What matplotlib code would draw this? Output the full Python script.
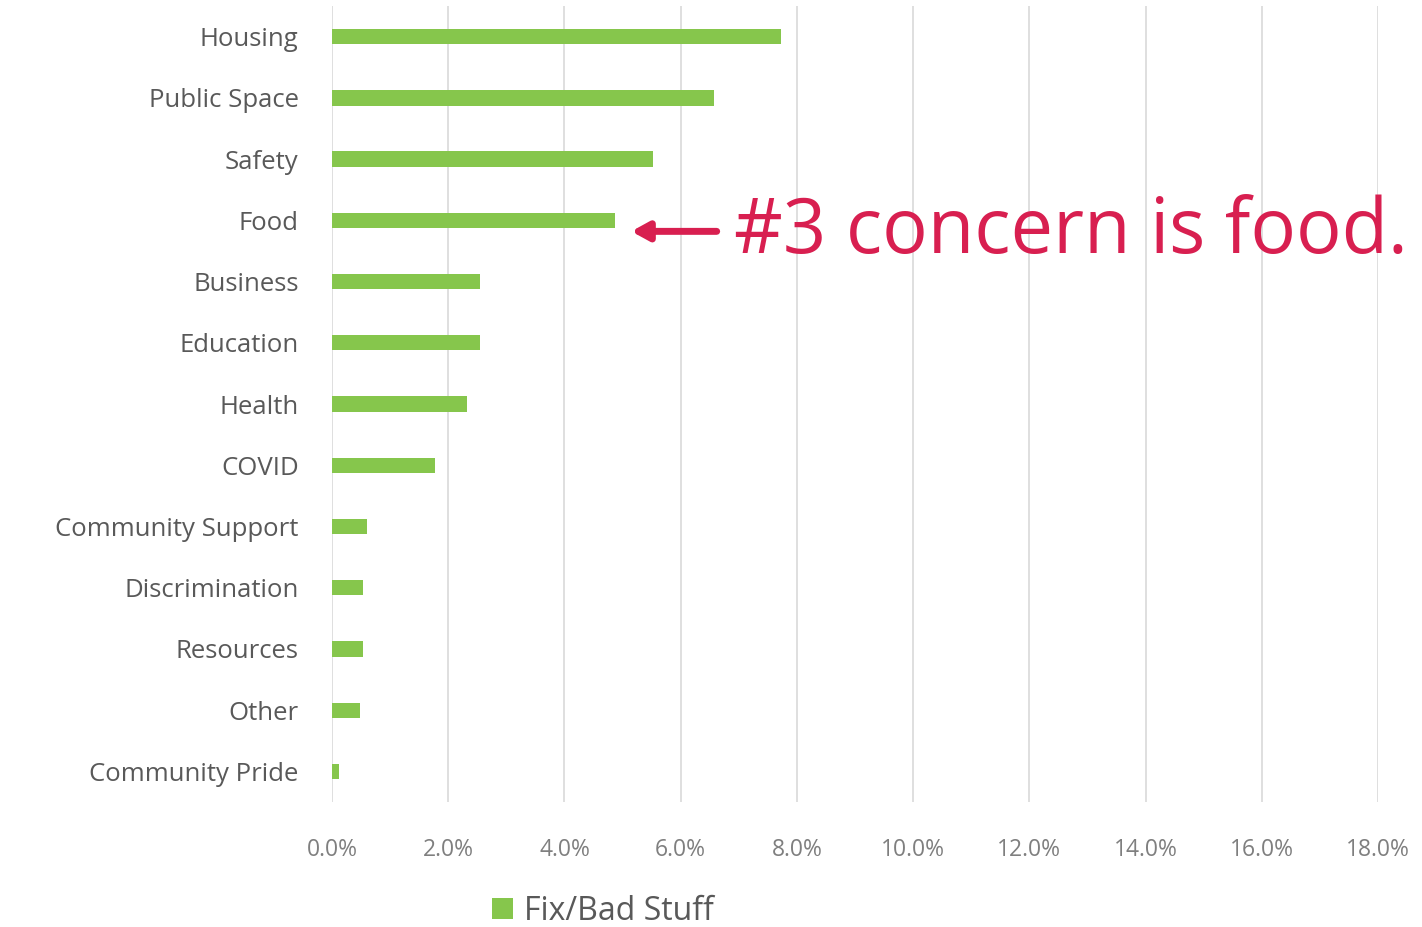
import matplotlib.pyplot as plt
from matplotlib.ticker import FuncFormatter

# data (share of responses, %)
categories = ["Housing", "Public Space", "Safety", "Food", "Business", "Education",
              "Health", "COVID", "Community Support", "Discrimination", "Resources",
              "Other", "Community Pride"]
values = [7.72, 6.57, 5.53, 4.87, 2.54, 2.54, 2.33, 1.77, 0.60, 0.53, 0.53, 0.48, 0.12]
x_ticks = [0, 2, 4, 6, 8, 10, 12, 14, 16, 18]
series_name = "Fix/Bad Stuff"
note = "#3 concern is food."

green = "#86C64C"
crimson = "#D81F50"
label_grey = "#595959"

plt.rcParams["font.family"] = ["Open Sans", "DejaVu Sans"]

fig = plt.figure(figsize=(14.22, 9.27), dpi=100)
ax = fig.add_axes([0.2335, 0.1348, 0.7355, 0.8587])

ypos = list(range(len(categories)))
bars = ax.barh(ypos, values, height=0.25, color=green, label=series_name, zorder=3)

ax.set_xlim(0, 18)
ax.set_ylim(len(categories) - 0.5, -0.5)
ax.set_xticks(x_ticks)
ax.xaxis.set_major_formatter(FuncFormatter(lambda v, p: f"{v:.1f}%"))
ax.set_yticks(ypos)
ax.set_yticklabels(categories)

ax.grid(axis="x", color="#D9D9D9", linewidth=1.2, zorder=0)
for s in ax.spines.values():
    s.set_visible(False)
ax.tick_params(axis="both", length=0)
ax.tick_params(axis="y", labelsize=18.5, labelcolor=label_grey, pad=24)
ax.tick_params(axis="x", labelsize=16.5, labelcolor="#7F7F7F", pad=26)

# callout on the food bar
food = categories.index("Food")
ax.annotate("", xy=(5.15, food + 0.18), xytext=(6.62, food + 0.18),
            arrowprops=dict(arrowstyle="-|>,head_length=1.0,head_width=0.55",
                            color=crimson, lw=5, shrinkA=0, shrinkB=0))
ax.text(6.92, food + 0.2, note, color=crimson, fontsize=54.5,
        va="center", ha="left", clip_on=False)

leg = fig.legend(handles=[bars], labels=[series_name], loc="center",
                 bbox_to_anchor=(0.424, 0.017), frameon=False, fontsize=23,
                 handlelength=0.65, handleheight=0.65, handletextpad=0.35)
for t in leg.get_texts():
    t.set_color(label_grey)

fig.savefig("out.png", dpi=100)
